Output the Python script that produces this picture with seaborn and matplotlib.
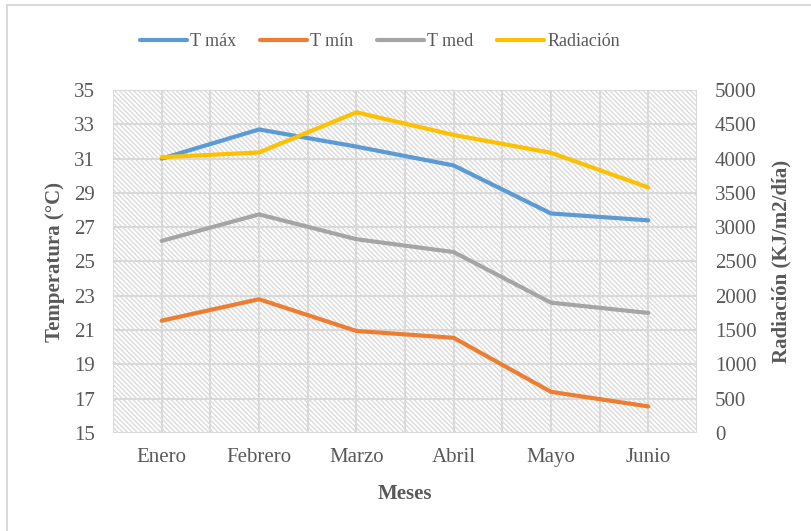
import numpy as np
import pandas as pd
import matplotlib
matplotlib.use('Agg')
import matplotlib.pyplot as plt
import seaborn as sns
from matplotlib.patches import Rectangle
from matplotlib.lines import Line2D

meses = ['Enero', 'Febrero', 'Marzo', 'Abril', 'Mayo', 'Junio']
t_max = [31.0, 32.7, 31.7, 30.6, 27.8, 27.4]
t_min = [21.55, 22.8, 20.95, 20.55, 17.4, 16.55]
t_med = [26.2, 27.75, 26.3, 25.55, 22.6, 22.0]
radiacion = [4020, 4090, 4675, 4345, 4085, 3580]

series = ['T máx', 'T mín', 'T med']
colores = {'T máx': '#5B9BD5', 'T mín': '#ED7D31', 'T med': '#A5A5A5'}
color_rad = '#FFC000'

temp = pd.DataFrame({'Mes': meses * 3,
                     'Serie': ['T máx'] * 6 + ['T mín'] * 6 + ['T med'] * 6,
                     'Temp': t_max + t_min + t_med})
rad = pd.DataFrame({'Mes': meses, 'Rad': radiacion})

sns.set_style('white')
plt.rcParams['font.family'] = ['Liberation Serif', 'DejaVu Serif']
plt.rcParams['hatch.linewidth'] = 0.9
texto = '#595959'
grid_c = '#d9d9d9'

fig = plt.figure(figsize=(8.11, 5.31), dpi=100)
ax = fig.add_axes([113 / 811, 1 - 433 / 531, 584 / 811, 343 / 531])

sns.lineplot(data=temp, x='Mes', y='Temp', hue='Serie', hue_order=series,
             palette=colores, linewidth=3, legend=False, ax=ax, zorder=3)

ax2 = ax.twinx()
sns.lineplot(data=rad, x='Mes', y='Rad', color=color_rad, linewidth=3,
             legend=False, ax=ax2, zorder=3)

# hatched plot background
ax.add_patch(Rectangle((0, 0), 1, 1, transform=ax.transAxes, facecolor='none',
                       edgecolor='#d8d8d8', linewidth=0, hatch='\\' * 7, zorder=0.2))

ax.set_xlim(-0.5, 5.5)
ax.set_ylim(15, 35)
ax.set_yticks(np.arange(15, 36, 2))
ax2.set_ylim(0, 5000)
ax2.set_yticks(np.arange(0, 5001, 500))

ax.set_xticks(range(len(meses)))
ax.set_xticklabels(meses)
ax.set_xticks(np.arange(-0.5, 5.6, 1), minor=True)
ax.set_axisbelow(True)
ax.grid(True, which='both', axis='x', color=grid_c, linewidth=1.5)
ax.grid(True, which='major', axis='y', color=grid_c, linewidth=1.5)
ax2.grid(False)

for a in (ax, ax2):
    for s in a.spines.values():
        s.set_visible(False)
    a.tick_params(which='both', length=0, labelsize=15, labelcolor=texto)
ax.tick_params(axis='y', pad=13)
ax.tick_params(axis='x', pad=11)
ax2.tick_params(axis='y', pad=13)

ax.set_xlabel('Meses', fontsize=15, fontweight='bold', color=texto)
ax.set_ylabel('Temperatura (°C)', fontsize=15, fontweight='bold', color=texto)
ax2.set_ylabel('Radiación (KJ/m2/día)', fontsize=15, fontweight='bold', color=texto)
ax.xaxis.set_label_coords(0.5, -0.148)
ax.yaxis.set_label_coords(-0.083, 0.5)
ax2.yaxis.set_label_coords(1.128, 0.5)

handles = [Line2D([], [], color=colores[s], lw=3) for s in series]
handles.append(Line2D([], [], color=color_rad, lw=3))
fig.legend(handles, series + ['Radiación'], loc='center', ncol=4,
           bbox_to_anchor=(380 / 811, 1 - 42 / 531), frameon=False,
           fontsize=13, labelcolor=texto, handlelength=2.6,
           handletextpad=0.2, columnspacing=1.3)

fig.patches.append(Rectangle((7 / 811, -0.1), 2, 1 - 5 / 531 + 0.1,
                             transform=fig.transFigure, fill=False,
                             edgecolor=grid_c, linewidth=1.5))

fig.savefig('out.png', dpi=100)
